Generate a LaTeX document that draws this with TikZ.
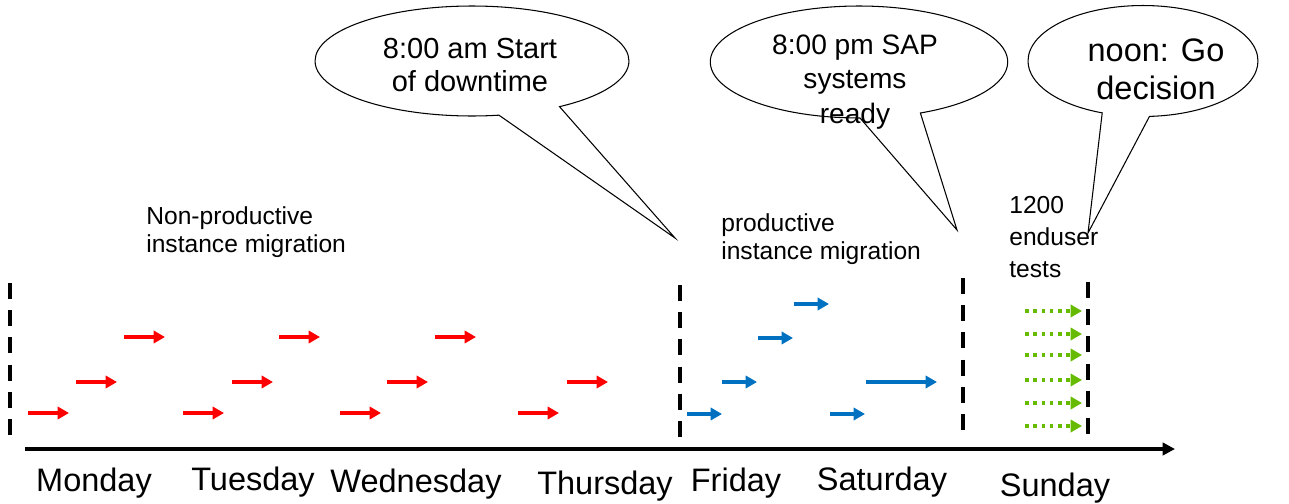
\documentclass[tikz,border=0pt]{standalone}
\usepackage{fontspec}
\setmainfont{Liberation Sans}
\usetikzlibrary{shapes.geometric, shapes.callouts, arrows.meta, positioning}
\definecolor{sapblue}{RGB}{0,112,192}
\definecolor{testgreen}{RGB}{102,187,0}
\tikzstyle{day} = [anchor=base, inner sep=0pt, font=\fontsize{18.5}{20}\selectfont]
\tikzstyle{note} = [anchor=west, align=left, inner sep=0pt, font=\fontsize{14}{16}\selectfont]
\tikzstyle{bubble} = [ellipse callout, draw=black, line width=0.6pt, fill=white, inner sep=0pt, callout pointer arc=24]
\tikzstyle{divider} = [line width=2pt, dash pattern=on 9pt off 6.5pt]
\tikzstyle{axis} = [line width=2.3pt, -{Triangle[length=7pt,width=7pt]}]
\tikzstyle{redarrow} = [line width=2.2pt, red, -{Triangle[length=6.5pt,width=7pt]}]
\tikzstyle{bluearrow} = [line width=2.2pt, sapblue, -{Triangle[length=6.5pt,width=7pt]}]
\tikzstyle{greenarrow} = [line width=2pt, testgreen, dash pattern=on 2pt off 2.7pt, -{Triangle[length=6.5pt,width=7pt]}]

\begin{document}
\begin{tikzpicture}[x=0.02cm, y=-0.02cm]
			\useasboundingbox (0,0) rectangle (1289,504);
			% Timeline
			\coordinate (origin) at (25,449);
			\coordinate (future) at (1175,449);
			\draw [axis] (origin) -- (future);
			\draw [divider] (10,283) -- (10,442);
			\draw [divider] (680,285) -- (680,445);
			\draw [divider] (963,278) -- (963,438);
			\draw [divider] (1088,282) -- (1088,445);
			% Days
			\node (mon) [day] at (94,491) {Monday};
			\node (tue) [day] at (253,490) {Tuesday};
			\node (wed) [day] at (416,492) {Wednesday};
			\node (thu) [day] at (605,494) {Thursday};
			\node (fri) [day] at (736,491) {Friday};
			\node (sat) [day] at (882,490) {Saturday};
			\node (sun) [day] at (1055,496) {Sunday};
			% Phases
			\node (nonprod) [note] at (146,232) {Non-productive\\instance migration};
			\node (prod) [note] at (721,239) {productive\\instance migration};
			\node (tests) [note, font=\fontsize{14}{18}\selectfont] at (1009,237) {1200\\enduser\\tests};
			% Migrations
			\foreach \x/\y in {28/413, 183/413, 340/413, 518/413, 76/382, 232/382, 387/382, 567/382, 124/337, 279/337, 435/337}
				\draw [redarrow] (\x,\y) -- ++(41,0);
			\foreach \x/\y/\l in {687/414/35, 722/382/35, 758/338/35, 794/304/35, 830/414/35, 866/382/71}
				\draw [bluearrow] (\x,\y) -- ++(\l,0);
			\foreach \y in {311, 334, 355, 380, 403, 426}
				\draw [greenarrow] (1025,\y) -- ++(57,0);
			% Callouts
			\coordinate (downtime) at (675,238);
			\coordinate (ready) at (957,230);
			\coordinate (golive) at (1088,233);
			\node (startA) [bubble, minimum width=6.28cm, minimum height=2.2cm, callout absolute pointer={(downtime)}] at (472,61) {};
			\node (sapB) [bubble, minimum width=5.95cm, minimum height=2.24cm, callout absolute pointer={(ready)}] at (859,62) {};
			\node (goC) [bubble, minimum width=4.6cm, minimum height=2.22cm, callout absolute pointer={(golive)}] at (1143,61) {};
			\node [align=center, inner sep=0pt, font=\fontsize{16.5}{19}\selectfont] at (470,65) {8:00 am Start\\of downtime};
			\node [align=center, inner sep=0pt, font=\fontsize{16}{19.5}\selectfont] at (855,82) {8:00 pm SAP\\systems\\ready};
			\node [align=center, inner sep=0pt, font=\fontsize{18.5}{21.5}\selectfont] at (1156,69) {noon: Go\\decision};
		\end{tikzpicture}
\end{document}
